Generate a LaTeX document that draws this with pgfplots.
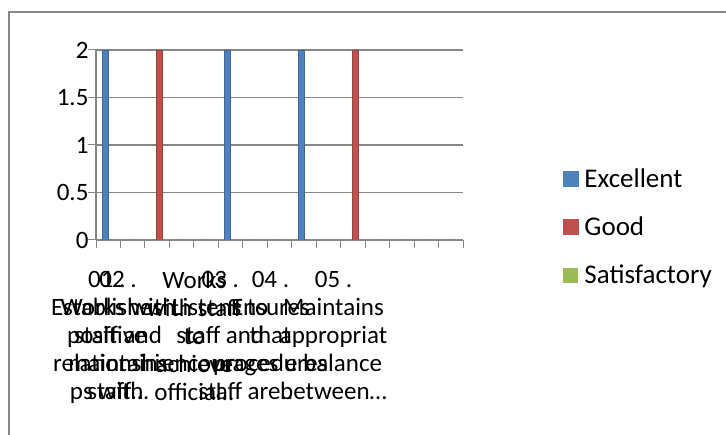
\documentclass[border=0pt]{standalone}
\usepackage{pgfplots}
\pgfplotsset{compat=1.18}
\usepackage{fontspec}
\setmainfont{Carlito}
\definecolor{exc}{HTML}{4F81BD}
\definecolor{goo}{HTML}{C0504D}
\definecolor{sat}{HTML}{9BBB59}
\definecolor{axg}{HTML}{868686}
\newcommand{\cf}{\fontsize{25}{28}\selectfont}
\newcommand{\lf}{\fontsize{27}{30}\selectfont}
\newcommand{\dd}{..}
\newcommand{\ddd}{\char"2026}
\begin{document}
\begin{tikzpicture}[x=1pt,y=1pt]
\useasboundingbox (0,0) rectangle (726,434);
\draw[axg, line width=1.2pt] (9,-5) -- (9,422) -- (730,422);
\begin{axis}[
  at={(96pt,194pt)}, anchor=south west,
  scale only axis, width=367pt, height=190pt,
  xmin=0.5, xmax=15.5, ymin=0, ymax=2,
  axis lines*=left, axis line style={axg, line width=1.2pt, -},
  xtick={0.5,1.5,2.5,3.5,4.5,5.5,6.5,7.5,8.5,9.5,10.5,11.5,12.5,13.5,14.5,15.5}, xticklabels={},
  ytick={0,0.5,1,1.5,2},
  tick align=outside, xtick pos=bottom, ytick pos=left,
  major tick length=8pt,
  tick style={axg, line width=1pt},
  ymajorgrids, grid style={axg, line width=1.2pt},
  /pgf/number format/assume math mode=true,
  ticklabel style={font=\cf},
  yticklabel style={xshift=4pt},
  extra x ticks={0.94,1.40,4.52,5.58,7.63,10.21},
  extra x tick labels={
    {01 .\\Establishes\\positive\\relationshi\\ps with},
    {02 .\\Works with\\staff and\\maintains\\staff\ddd},
    {Works\\with staff\\to\\achieve\\official\dd},
    {03 .\\Listens to\\staff and\\encourages\\staff},
    {04 .\\Ensures\\that\\procedures\\are\dd},
    {05 .\\Maintains\\appropriat\\e balance\\between\ddd}},
  extra x tick style={major tick length=0pt, grid=none,
    tick label style={align=center, font=\cf, anchor=north, yshift=-28pt}},
  legend style={at={(1.264,0.068)}, anchor=west, draw=none, fill=none,
    font=\lf, row sep=24pt, legend cell align=left},
]
\addplot[ybar, bar width=0.24, bar shift=-0.12, fill=exc, draw=exc!80!black, line width=0.4pt,
  legend image code/.code={\fill[exc] (0pt,-7.5pt) rectangle (15pt,7.5pt); \path (19pt,0pt);}]
  coordinates {(1,2) (2,0) (3,0) (4,0) (5,0) (6,2) (7,0) (8,0) (9,2) (10,0) (11,0) (12,0) (13,0) (14,0) (15,0)};
\addplot[ybar, bar width=0.24, bar shift=0.10, fill=goo, draw=goo!80!black, line width=0.4pt,
  legend image code/.code={\fill[goo] (0pt,-7.5pt) rectangle (15pt,7.5pt); \path (19pt,0pt);}]
  coordinates {(1,0) (2,0) (3,2) (4,0) (5,0) (6,0) (7,0) (8,0) (9,0) (10,0) (11,2) (12,0) (13,0) (14,0) (15,0)};
\addplot[ybar, bar width=0.24, bar shift=0.32, fill=sat, draw=none,
  legend image code/.code={\fill[sat] (0pt,-7.5pt) rectangle (15pt,7.5pt); \path (19pt,0pt);}]
  coordinates {(1,0) (2,0) (3,0) (4,0) (5,0) (6,0) (7,0) (8,0) (9,0) (10,0) (11,0) (12,0) (13,0) (14,0) (15,0)};
\legend{Excellent,Good,Satisfactory}
\end{axis}
\end{tikzpicture}
\end{document}
